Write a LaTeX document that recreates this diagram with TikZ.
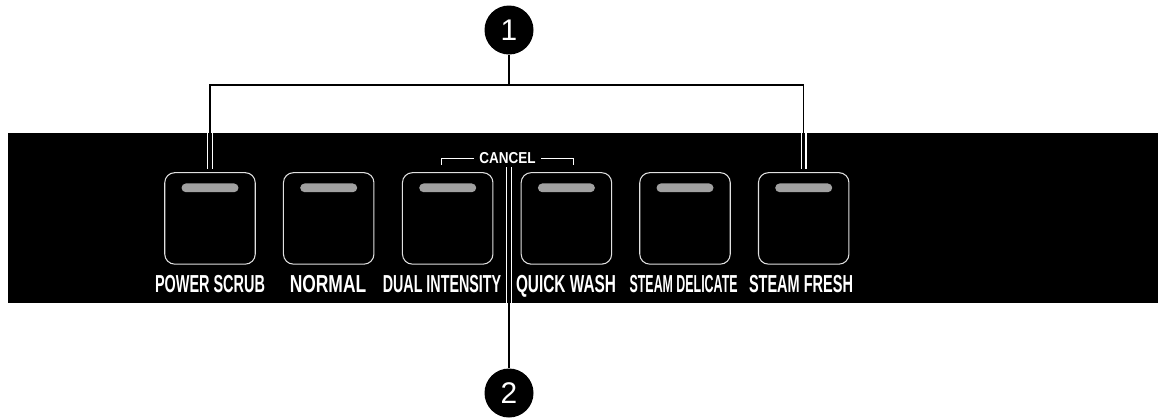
\documentclass[tikz,border=0pt]{standalone}
\usepackage{fontspec}
\usepackage{graphicx}
\newfontfamily\panelfont{Liberation Sans}

\tikzset{
  button/.style={draw=white!88!black, line width=0.6pt, fill=black, rounded corners=0.2cm,
    minimum width=1.81cm, minimum height=1.83cm, inner sep=0pt},
  lamp/.style={fill=black!37, rounded corners=0.087cm, minimum width=1.14cm,
    minimum height=0.174cm, inner sep=0pt},
  lbl/.style={text=white, font=\panelfont\bfseries\fontsize{14}{16}\selectfont, inner sep=0pt},
  marker/.style={circle, fill=black, text=white, minimum size=0.98cm, inner sep=0pt,
    font=\panelfont\fontsize{17}{19}\selectfont},
  lead/.style={black, line width=0.6pt},
  inlead/.style={white, line width=0.7pt, double=black, double distance=2pt},
  wline/.style={white, line width=0.6pt}
}

\begin{document}
\begin{tikzpicture}[x=0.02cm, y=-0.02cm]
\useasboundingbox (0,0) rectangle (1158,417);

% panel
\fill[black] (8,133) rectangle (1158,303);
\coordinate (ptop) at (0,133);
\coordinate (pbot) at (0,303);

% buttons and labels
\foreach \i/\bx/\lx/\w/\txt in {0/210/210/2.2/POWER SCRUB, 1/328.7/328/1.53/NORMAL,
  2/447.7/442/2.37/DUAL INTENSITY, 3/566.4/566/2.0/QUICK WASH,
  4/685/683.6/2.16/STEAM DELICATE, 5/803.7/801/2.08/STEAM FRESH} {
    \node[button] (b\i) at (\bx,218.4) {};
    \node[lamp] at ([yshift=-0.314cm]b\i.north) {};
    \node[lbl, anchor=base] (l\i) at (\lx,292.5) {\resizebox{\w cm}{\height}{\txt}};
}

% CANCEL
\node[text=white, font=\panelfont\bfseries\fontsize{9}{11}\selectfont,
  inner xsep=0.1cm, inner ysep=0.06cm, anchor=base] (cancel) at (507.6,163.5)
  {\resizebox{1.126cm}{\height}{CANCEL}};
\draw[wline] (cancel.west) -- ++(-32.6,0) -- ++(0,6.7);
\draw[wline] (cancel.east) -- ++(32.2,0) -- ++(0,6.7);

% markers
\node[marker] (c1) at (509,30) {1};
\node[marker] (c2) at (509,393) {2};

% leader 1
\coordinate (hub) at (509,85);
\draw[lead] (c1) -- (hub);
\draw[lead] (b0.north |- ptop) -- (b0.north |- hub) -- (b5.north |- hub) -- (b5.north |- ptop);
\draw[inlead] (b0.north |- ptop) -- ([yshift=0.055cm]b0.north);
\draw[inlead] (b5.north |- ptop) -- ([yshift=0.055cm]b5.north);

% leader 2
\draw[inlead] (cancel.south -| c2) -- (c2 |- pbot);
\draw[lead] (c2 |- pbot) -- (c2);

\end{tikzpicture}
\end{document}
